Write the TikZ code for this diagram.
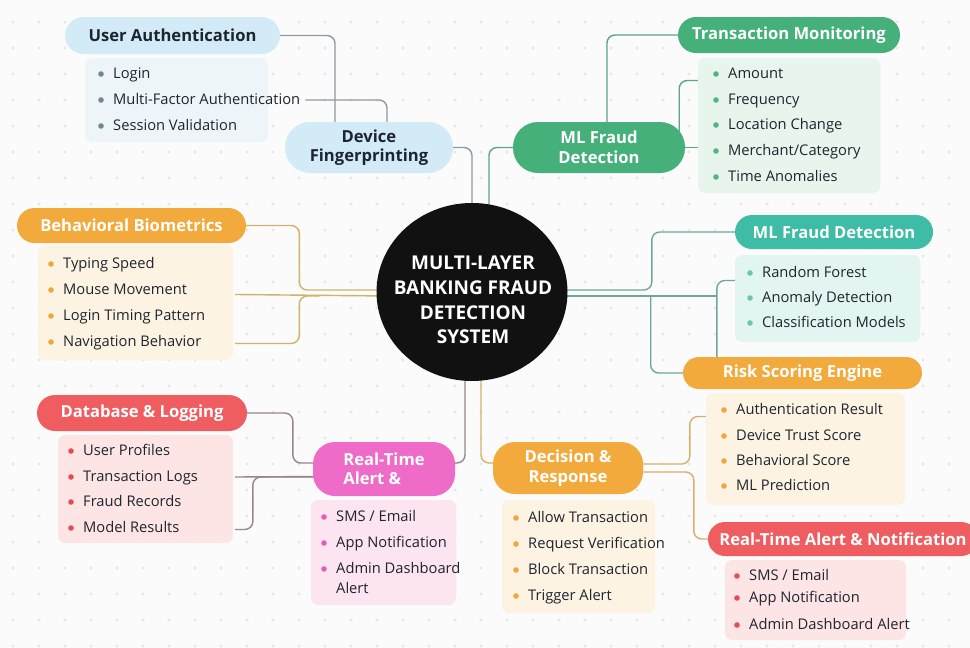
\documentclass[tikz,border=0pt]{standalone}
\usepackage{fontspec}
\setmainfont{Open Sans}
\usetikzlibrary{calc,shapes.geometric}
\pgfdeclarelayer{back}
\pgfdeclarelayer{bg}
\pgfsetlayers{back,bg,main}

% palette
\definecolor{paper}{HTML}{FBFBFB}
\definecolor{dotc}{HTML}{E6E6E6}
\definecolor{ink}{HTML}{1E2530}
\definecolor{blueH}{HTML}{D3EBF6}
\definecolor{blueL}{HTML}{EDF5F9}
\definecolor{blueB}{HTML}{6E8A8C}
\definecolor{blueC}{HTML}{8A99A3}
\definecolor{greenH}{HTML}{45B07A}
\definecolor{greenL}{HTML}{E7F5ED}
\definecolor{greenB}{HTML}{55B383}
\definecolor{greenC}{HTML}{5AA585}
\definecolor{orangeH}{HTML}{F3AA3C}
\definecolor{orangeL}{HTML}{FDF3E2}
\definecolor{orangeB}{HTML}{F0A640}
\definecolor{orangeC}{HTML}{D2B26A}
\definecolor{redH}{HTML}{EF5D61}
\definecolor{redL}{HTML}{FDE5E6}
\definecolor{redB}{HTML}{E24D55}
\definecolor{redC}{HTML}{9B8585}
\definecolor{pinkH}{HTML}{EE6BC8}
\definecolor{pinkL}{HTML}{FCE4F0}
\definecolor{pinkB}{HTML}{E060B8}
\definecolor{tealH}{HTML}{3EBCA5}
\definecolor{tealL}{HTML}{E3F5F1}
\definecolor{tealB}{HTML}{6CC5B0}
\definecolor{tealC}{HTML}{6FA899}
\definecolor{hubc}{HTML}{111111}

% one bulleted line: name, bullet x, y, bullet colour, text
\newcommand\bulletrow[5]{%
  \fill[#4] (#2,#3) circle (2.8);
  \node[itm] (#1) at ($(#2,#3)+(11,1.5)$) {#5};
}

\begin{document}
\begin{tikzpicture}[x=1pt,y=-1pt,
  pill/.style n args={3}{minimum width=#1, minimum height=#2, rounded corners=#3,
    inner sep=0pt, align=center, font=\bfseries\fontsize{16.6}{19.5}\selectfont},
  lbox/.style n args={2}{minimum width=#1, minimum height=#2, rounded corners=7pt, inner sep=0pt},
  itm/.style={anchor=west, inner sep=1pt, text=ink, text height=1.6ex, text depth=.45ex,
    font=\fontsize{14.7}{17.5}\selectfont},
  link/.style={line width=1.4pt, rounded corners=8pt},
]
\useasboundingbox (0,0) rectangle (970,648);

% paper and dot grid
\begin{pgfonlayer}{back}
  \fill[paper] (0,0) rectangle (970,648);
  \foreach \i in {0,...,37} \foreach \j in {0,...,24}
    \fill[dotc] (13+26*\i,22+26*\j) circle (1.7);
\end{pgfonlayer}

% hub
\node[ellipse, fill=hubc, minimum width=191pt, minimum height=178pt, inner sep=0pt]
  (hub) at (472,292) {};
\node[text=white, align=center, inner sep=0pt, font=\bfseries\fontsize{19}{24.6}\selectfont]
  (hubtext) at (473,300) {MULTI-LAYER\\BANKING FRAUD\\DETECTION\\SYSTEM};

% list panels
\node[lbox={183pt}{84pt}, fill=blueL] (uabox) at (176.5,100) {};
\node[lbox={182pt}{135pt}, fill=greenL] (tmbox) at (789,125.5) {};
\node[lbox={195pt}{115pt}, fill=orangeL] (bbbox) at (135.5,302.5) {};
\node[lbox={175pt}{108pt}, fill=redL] (dbbox) at (145.5,489) {};
\node[lbox={145pt}{105pt}, fill=pinkL] (rtabox) at (383.5,552.5) {};
\node[lbox={153pt}{113pt}, fill=orangeL] (drbox) at (578.5,556.5) {};
\node[lbox={185pt}{87pt}, fill=tealL] (mltbox) at (827.5,298.5) {};
\node[lbox={199pt}{112pt}, fill=orangeL] (rsbox) at (805.5,449) {};
\node[lbox={181pt}{80pt}, fill=redL] (rta2box) at (815.5,600) {};

% topic pills
\node[pill={215pt}{37pt}{18.5pt}, fill=blueH, text=ink] (ua) at (172.5,35.5) {User Authentication};
\node[pill={168pt}{51pt}{25pt}, fill=blueH, text=ink] (df) at (369,147.5) {Device\\Fingerprinting};
\node[pill={172pt}{51pt}{25pt}, fill=greenH, text=white] (mlf) at (599,147.5) {ML Fraud\\Detection};
\node[pill={222pt}{36pt}{18pt}, fill=greenH, text=white] (tm) at (789,35) {Transaction Monitoring};
\node[pill={229pt}{35pt}{17.5pt}, fill=orangeH, text=white] (bb) at (131.5,225.5) {Behavioral Biometrics};
\node[pill={210pt}{36pt}{18pt}, fill=redH, text=white] (db) at (142,413) {Database \& Logging};
\node[pill={142pt}{54pt}{22pt}, fill=pinkH, text=white, align=left] (rta) at (384,469) {Real-Time\\Alert \&};
\node[pill={150pt}{52pt}{22pt}, fill=orangeH, text=white] (dr) at (568,468) {Decision \&\\Response};
\node[pill={198pt}{34pt}{17pt}, fill=tealH, text=white] (mlt) at (834,232) {ML Fraud Detection};
\node[pill={239pt}{32pt}{16pt}, fill=orangeH, text=white] (rs) at (802.5,373) {Risk Scoring Engine};
\node[pill={270pt}{34pt}{17pt}, fill=redH, text=white] (rta2) at (843,539) {Real-Time Alert \& Notification};

% bulleted items
\bulletrow{ua-1}{101}{74}{blueB}{Login}
\bulletrow{ua-2}{101}{100}{blueB}{Multi-Factor Authentication}
\bulletrow{ua-3}{101}{126}{blueB}{Session Validation}

\bulletrow{tm-1}{716}{74}{greenB}{Amount}
\bulletrow{tm-2}{716}{100}{greenB}{Frequency}
\bulletrow{tm-3}{716}{125}{greenB}{Location Change}
\bulletrow{tm-4}{716}{151}{greenB}{Merchant/Category}
\bulletrow{tm-5}{716}{177}{greenB}{Time Anomalies}

\bulletrow{bb-1}{51}{264}{orangeB}{Typing Speed}
\bulletrow{bb-2}{51}{290}{orangeB}{Mouse Movement}
\bulletrow{bb-3}{51}{316}{orangeB}{Login Timing Pattern}
\bulletrow{bb-4}{51}{342}{orangeB}{Navigation Behavior}

\bulletrow{db-1}{71}{451}{redB}{User Profiles}
\bulletrow{db-2}{71}{477}{redB}{Transaction Logs}
\bulletrow{db-3}{71}{502}{redB}{Fraud Records}
\bulletrow{db-4}{71}{528}{redB}{Model Results}

\bulletrow{rta-1}{324}{517}{pinkB}{SMS / Email}
\bulletrow{rta-2}{324}{543}{pinkB}{App Notification}
\bulletrow{rta-3}{324}{569}{pinkB}{Admin Dashboard}
\node[itm] (rta-3b) at (335,590.5) {Alert};

\bulletrow{dr-1}{516}{518}{orangeB}{Allow Transaction}
\bulletrow{dr-2}{516}{544}{orangeB}{Request Verification}
\bulletrow{dr-3}{516}{570}{orangeB}{Block Transaction}
\bulletrow{dr-4}{516}{596}{orangeB}{Trigger Alert}

\bulletrow{mlt-1}{750}{273}{tealB}{Random Forest}
\bulletrow{mlt-2}{750}{298}{tealB}{Anomaly Detection}
\bulletrow{mlt-3}{750}{323}{tealB}{Classification Models}

\bulletrow{rs-1}{724}{410}{orangeB}{Authentication Result}
\bulletrow{rs-2}{724}{436}{orangeB}{Device Trust Score}
\bulletrow{rs-3}{724}{461}{orangeB}{Behavioral Score}
\bulletrow{rs-4}{724}{486}{orangeB}{ML Prediction}

\bulletrow{rta2-1}{737}{576}{redB}{SMS / Email}
\bulletrow{rta2-2}{737}{598}{redB}{App Notification}
\bulletrow{rta2-3}{737}{625}{redB}{Admin Dashboard Alert}

% connectors, kept under the shapes
\begin{pgfonlayer}{bg}
  % identity branch
  \draw[link, blueC] (ua.east) -| ($(df.north)+(-34,0)$);
  \draw[link, blueC] ($(ua-2.east)+(4,-1.5)$) -| ($(df.north)+(18,0)$);
  \draw[link, blueC] (df.east) -| ($(hub.north)+(0,10)$);
  % transaction branch
  \draw[link, greenC] (mlf.west) -| ($(hub.north)+(17,10)$);
  \draw[link, greenC] ($(mlf.north)+(8,10)$) |- (tm.west);
  \draw[link, greenC] (mlf.east) -- (mlf.east -| tmbox.west);
  \draw[link, greenC] ($(mlf.east)+(-6,0)$) |- ($(tm-1.west -| tmbox.west)+(0,5)$);
  % behaviour branch
  \draw[link, orangeC] (bb.east) -| ($(hub.west)+(-77,-2)$) -- ($(hub.west)+(10,-2)$);
  \draw[link, orangeC] ($(bb-2.east -| bbbox.east)+(2,3)$) -- ($(hub.west)+(10,4)$);
  \draw[link, orangeC] ($(bb-4.east -| bbbox.east)+(2,0)$) -| ($(hub.west)+(-77,4)$) -- ++(20,0);
  % storage branch
  \draw[link, redC] (db.east) -| ($(rta.west)+(-20,-6)$) -- ($(rta.west)+(5,-6)$);
  \draw[link, redC] ($(db-2.east -| dbbox.east)+(2,-1.5)$) -- ($(rta.west)+(5,7.5)$);
  \draw[link, redC] ($(db-4.east -| dbbox.east)+(2,0)$) -| ($(rta.west)+(-60,8)$) -- ($(rta.west)+(5,8)$);
  \draw[link, redC] ($(rta.east)+(-5,-6)$) -| ($(hub.south)+(-7,-10)$);
  % decision branch
  \draw[link, orangeC] ($(hub.south)+(9,-10)$) |- ($(dr.west)+(5,-5)$);
  \draw[link, orangeC] ($(dr.east)+(-5,-4)$) -| ($(rsbox.west |- rs-1)+(-16,5)$) -- ($(rsbox.west |- rs-1)+(2,5)$);
  \draw[link, orangeC] ($(dr.east)+(-5,4)$) -| ($(rta2.west)+(-14,0)$) -- ($(rta2.west)+(5,0)$);
  % model and scoring branch
  \draw[link, tealC] ($(hub.east)+(-10,-2)$) -| ($(mlt.west)+(-83,0)$) -- ($(mlt.west)+(5,0)$);
  \draw[link, tealC] ($(hub.east)+(-10,4)$) -- ($(hub.east -| mltbox.west)+(-18,4)$);
  \draw[link, tealC] ($(rs.north -| mltbox.west)+(-18,5)$) |- ($(mlt-1.west -| mltbox.west)+(2,6)$);
  \draw[link, tealC] ($(hub.east)+(83,4)$) |- ($(rs.west)+(5,0)$);
\end{pgfonlayer}
\end{tikzpicture}
\end{document}
